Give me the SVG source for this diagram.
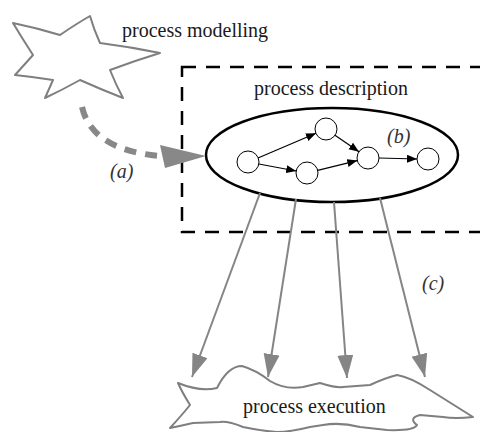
<svg xmlns="http://www.w3.org/2000/svg" width="480" height="432" viewBox="0 0 480 432">
<style>
.lbl{font-size:20px;fill:#1a1a1a}
.it{font-size:20px;font-style:italic;fill:#333}
.blob{fill:#fff;stroke:#7f7f7f;stroke-width:2;stroke-linejoin:round}
.nd{fill:#fff;stroke:#000;stroke-width:1}
.ed{stroke:#000;stroke-width:1.2;fill:none}
.gr{stroke:#858585;stroke-width:2;fill:none}
</style>
<defs>
<marker id="ah" markerUnits="userSpaceOnUse" markerWidth="11" markerHeight="9" refX="10" refY="4" orient="auto"><path d="M0,0 L10,4 L0,8 Z" fill="#000"/></marker>
<marker id="gh" markerUnits="userSpaceOnUse" markerWidth="24" markerHeight="18" refX="23" refY="8" orient="auto"><path d="M0,0 L23,8 L0,16 Z" fill="#858585"/></marker>
</defs>
<rect width="480" height="432" fill="#fff"/>

<g id="modelling">
<path class="blob" d="M13,23 Q37,28 60,35 Q76,24 90,16 Q94,30 100,43 Q131,47 160,53 Q134,61 110,70 Q116,85 123,98 Q100,89 80,80 Q62,90 45,98 Q49,89 53,80 Q34,77 15,75 Q25,64 33,55 Q22,38 13,23 Z"/>
<text class="lbl" font-family="Liberation Serif, Times New Roman, serif" x="122" y="37">process modelling</text>
</g>

<g id="description">
<rect x="182" y="67" width="320" height="165" fill="none" stroke="#000" stroke-width="2.5" stroke-dasharray="14 10"/>
<text class="lbl" font-family="Liberation Serif, Times New Roman, serif" x="331" y="95" text-anchor="middle">process description</text>
<ellipse cx="332" cy="155" rx="126" ry="47" fill="#fff" stroke="#000" stroke-width="2.5"/>
</g>

<g id="n1"><circle class="nd" cx="248" cy="162" r="11"/></g>
<g id="n2"><circle class="nd" cx="326" cy="129" r="11"/></g>
<g id="n3"><circle class="nd" cx="307" cy="173" r="11"/></g>
<g id="n4"><circle class="nd" cx="368" cy="158" r="11"/></g>
<g id="n5"><circle class="nd" cx="428" cy="159" r="11"/></g>

<g id="execution">
<path class="blob" d="M178,383 Q200,392 217,388 Q228,366 242,366 Q256,370 270,381 Q285,390 303,387 L320,383 Q335,388 343,387 L370,385 Q385,378 397,375 Q410,377 430,390 L473,417 Q455,419 443,417 L420,415 Q408,418 417,425 Q414,431 387,430 L360,427 Q340,422 323,425 L310,427 Q290,432 277,432 Q262,431 243,427 Q228,421 220,422 L193,423 Q180,426 170,428 Q182,415 190,405 Q182,392 178,383 Z"/>
<text class="lbl" font-family="Liberation Serif, Times New Roman, serif" x="243" y="413">process execution</text>
</g>

<g id="connectors">
<path d="M82,107 Q92,150 160,156" fill="none" stroke="#888" stroke-width="6" stroke-dasharray="12 9"/>
<polygon points="160,145 165,168 206,156" fill="#888"/>
<line class="ed" x1="258" y1="158" x2="316" y2="133.3" marker-end="url(#ah)"/>
<line class="ed" x1="258.8" y1="164" x2="296.2" y2="171" marker-end="url(#ah)"/>
<line class="ed" x1="335" y1="135.3" x2="359" y2="151.7" marker-end="url(#ah)"/>
<line class="ed" x1="317.7" y1="170.4" x2="357.3" y2="160.6" marker-end="url(#ah)"/>
<line class="ed" x1="379" y1="158" x2="417" y2="159" marker-end="url(#ah)"/>
<line class="gr" x1="260" y1="193" x2="192" y2="377" marker-end="url(#gh)"/>
<line class="gr" x1="296" y1="199" x2="268" y2="377" marker-end="url(#gh)"/>
<line class="gr" x1="334" y1="202" x2="347" y2="378" marker-end="url(#gh)"/>
<line class="gr" x1="380" y1="198" x2="425" y2="377" marker-end="url(#gh)"/>
<text class="it" font-family="Liberation Serif, Times New Roman, serif" x="110" y="178">(a)</text>
<text class="it" font-family="Liberation Serif, Times New Roman, serif" x="387" y="143">(b)</text>
<text class="it" font-family="Liberation Serif, Times New Roman, serif" x="422" y="290">(c)</text>
</g>
</svg>
